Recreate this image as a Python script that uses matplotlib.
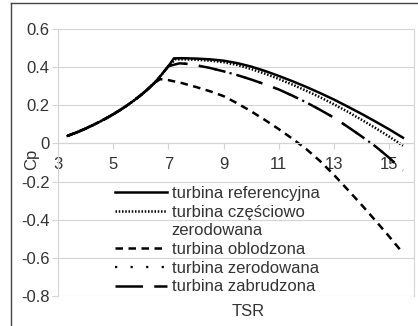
import matplotlib
matplotlib.use("Agg")
import matplotlib.pyplot as plt
from matplotlib.lines import Line2D
from matplotlib.ticker import FuncFormatter

plt.rcParams['font.family'] = ['Liberation Sans', 'DejaVu Sans']

# rising part shared by all turbines
rise_tsr = [3.35, 3.75, 4, 4.25, 4.5, 4.75, 5, 5.25, 5.5, 5.75, 6, 6.25, 6.5, 6.75, 7]
rise_cp = [0.04, 0.062, 0.078, 0.095, 0.113, 0.132, 0.153, 0.175, 0.199, 0.225,
           0.253, 0.284, 0.318, 0.36, 0.405]

ref_tsr = rise_tsr + [7.2, 7.5, 8, 8.5, 9, 9.5, 10, 10.5, 11, 11.5, 12, 12.5, 13,
                      13.5, 14, 14.5, 15, 15.5]
ref_cp = rise_cp + [0.446, 0.447, 0.445, 0.441, 0.434, 0.421, 0.403, 0.38, 0.354,
                    0.326, 0.296, 0.264, 0.23, 0.193, 0.155, 0.115, 0.074, 0.03]

part_tsr = rise_tsr + [7.25, 7.5, 8, 8.5, 9, 9.5, 10, 10.5, 11, 11.5, 12, 12.5, 13,
                       13.5, 14, 14.5, 15, 15.5]
part_cp = rise_cp + [0.44, 0.441, 0.439, 0.434, 0.426, 0.411, 0.39, 0.366, 0.338,
                     0.308, 0.276, 0.242, 0.205, 0.166, 0.124, 0.081, 0.036, -0.012]

ice_tsr = rise_tsr[:-2] + [6.7, 7, 7.5, 8, 8.5, 9, 9.5, 10, 10.5, 11, 11.5, 12, 12.5,
                           13, 13.5, 14, 14.5, 15, 15.5]
ice_cp = rise_cp[:-2] + [0.337, 0.332, 0.316, 0.296, 0.274, 0.248, 0.21, 0.168, 0.123,
                         0.075, 0.024, -0.03, -0.093, -0.165, -0.243, -0.322, -0.404,
                         -0.488, -0.575]

ero_tsr = rise_tsr + [7.4, 7.7, 8, 8.5, 9, 9.5, 10, 10.5, 11, 11.5, 12, 12.5, 13,
                      13.5, 14, 14.5, 15, 15.5]
ero_cp = rise_cp + [0.42, 0.417, 0.41, 0.396, 0.378, 0.358, 0.335, 0.31, 0.283, 0.25,
                    0.215, 0.176, 0.135, 0.087, 0.037, -0.015, -0.075, -0.142]

dirt_tsr = rise_tsr + [7.4, 7.7, 8, 8.5, 9, 9.5, 10, 10.5, 11, 11.5, 12, 12.5, 13,
                       13.5, 14, 14.5, 15, 15.5]
dirt_cp = rise_cp + [0.42, 0.417, 0.41, 0.396, 0.378, 0.358, 0.335, 0.31, 0.283, 0.25,
                     0.215, 0.176, 0.135, 0.087, 0.037, -0.015, -0.075, -0.142]

xticks = [3, 5, 7, 9, 11, 13, 15]
yticks = [-0.8, -0.6, -0.4, -0.2, 0, 0.2, 0.4, 0.6]

W, H = 418, 326
fig = plt.figure(figsize=(W / 100, H / 100), dpi=100)
ax = fig.add_axes([58 / W, 30 / H, 356 / W, 267 / H])

grey = '#d4d4d4'
txt = '#333333'

l5, = ax.plot(dirt_tsr, dirt_cp, color='black', lw=1.8, ls=(0, (11, 4.5)))
l4, = ax.plot(ero_tsr, ero_cp, color='black', lw=1.6, ls=(0, (1, 6)))
l3, = ax.plot(ice_tsr, ice_cp, color='black', lw=1.8, ls=(0, (3, 2.2)))
l2, = ax.plot(part_tsr, part_cp, color='black', lw=1.8, ls=(0, (0.6, 0.7)))
l1, = ax.plot(ref_tsr, ref_cp, color='black', lw=1.8)

ax.set_xlim(3, 15.9)
ax.set_ylim(-0.8, 0.6)
ax.set_xticks(xticks)
ax.set_yticks(yticks)
ax.yaxis.set_major_formatter(FuncFormatter(lambda v, p: '0' if abs(v) < 1e-9 else '%.1f' % v))
ax.grid(axis='y', color=grey, lw=0.8)
ax.set_axisbelow(True)

ax.spines['top'].set_visible(False)
ax.spines['bottom'].set_position(('data', 0))
for s in ['left', 'right', 'bottom']:
    ax.spines[s].set_color(grey)
    ax.spines[s].set_linewidth(0.8)
ax.tick_params(axis='x', direction='out', length=4, width=0.8, color=grey,
               labelsize=12, labelcolor=txt, pad=6)
ax.tick_params(axis='y', direction='out', length=4, width=0.8, color=grey,
               labelsize=12, labelcolor=txt, pad=2)

blank = Line2D([], [], color='none')
leg = ax.legend([l1, l2, blank, l3, l4, l5],
                ['turbina referencyjna', 'turbina częściowo', 'zerodowana',
                 'turbina oblodzona', 'turbina zerodowana', 'turbina zabrudzona'],
                loc='upper left', bbox_to_anchor=(115 / W, 1 - 186 / H),
                bbox_transform=fig.transFigure, frameon=False, fontsize=12,
                handlelength=3.1, handletextpad=0.3, labelspacing=0.22,
                borderpad=0, borderaxespad=0)
for t in leg.get_texts():
    t.set_color(txt)

fig.text(32 / W, 1 - 159 / H, 'Cp', rotation=90, ha='center', va='center',
         fontsize=12, color=txt)
fig.text(248 / W, 1 - 311 / H, 'TSR', ha='center', va='center',
         fontsize=12, color=txt)

# outer frame (cropped at right and bottom)
fig.add_artist(Line2D([11 / W, 1], [1 - 3 / H, 1 - 3 / H], color='#444444', lw=1,
                      transform=fig.transFigure))
fig.add_artist(Line2D([11 / W, 11 / W], [0, 1 - 3 / H], color='#444444', lw=1,
                      transform=fig.transFigure))

fig.savefig('out.png', dpi=100)
